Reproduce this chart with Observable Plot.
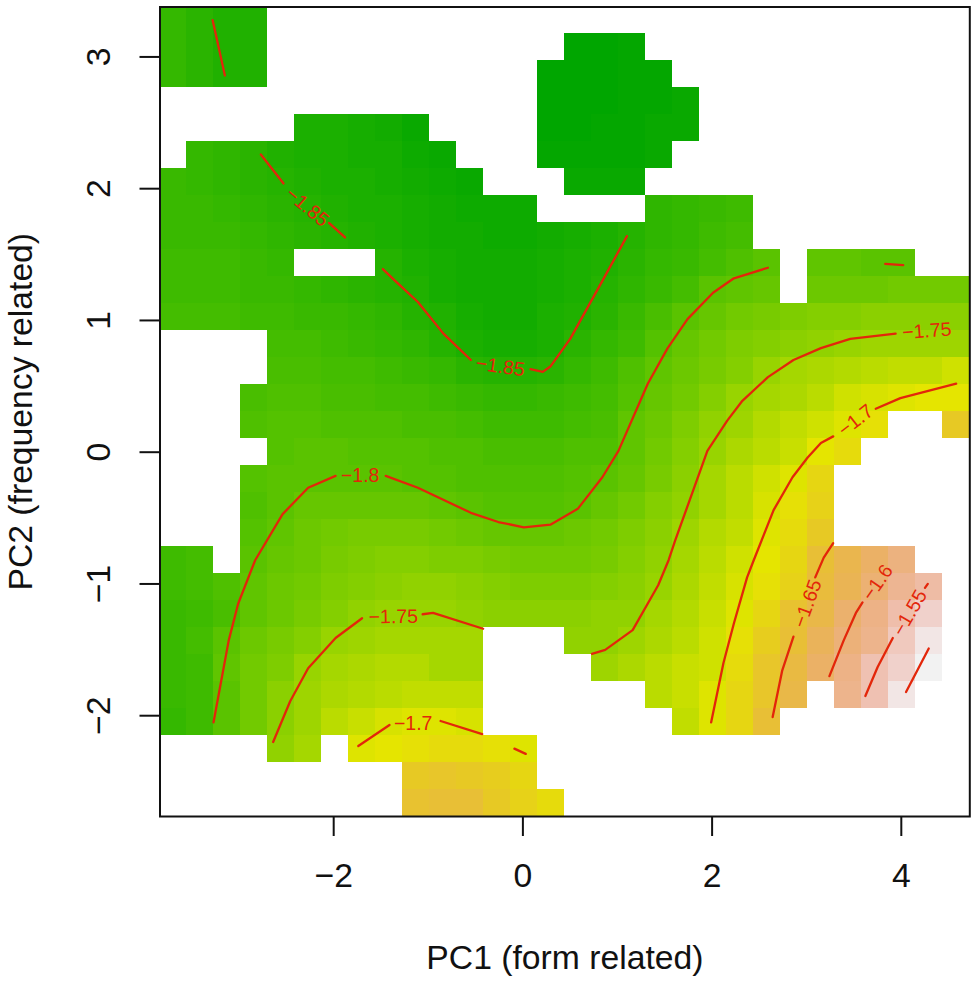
<!DOCTYPE html>
<html>
<head>
<meta charset="utf-8">
<script src="https://cdn.jsdelivr.net/npm/d3@7"></script>
<script src="https://cdn.jsdelivr.net/npm/@observablehq/plot@0.6"></script>
<style>
  body { margin: 0; background: #fff; }
  svg { display: block; }
</style>
</head>
<body>
<div id="chart"></div>
<script>
const _ = null;

const xTicks = [-2, 0, 2, 4];
const yTicks = [-2, -1, 0, 1, 2, 3];
const xLabel = "PC1 (form related)";
const yLabel = "PC2 (frequency related)";

// Extent of the image grid (30 x 30 cells)
const xRange = [-3.836, 4.724];
const yRange = [-2.765, 3.379];

// Cell values, top row first, as -z * 100
const gridRows = [
  [183.5,184.5,185.5,185.5],
  [183.5,184.5,185.5,185.5,_,_,_,_,_,_,_,_,_,_,_,189,189,188.5],
  [183.5,184.5,185.5,185.5,_,_,_,_,_,_,_,_,_,_,189,189,189,188.5,188.5],
  [_,_,_,_,_,_,_,_,_,_,_,_,_,_,189,189,189,188.5,188.5,188],
  [_,_,_,_,_,186,186,186.5,187,188,_,_,_,_,189,189,188.5,188.5,188,188],
  [_,183.5,184,184.5,185.5,186,186,186.5,186.5,187.5,188,_,_,_,188.5,188.5,188.5,188.5,188],
  [183,183.5,184,184.5,185,185.5,186,186,186.5,187,187.5,188,_,_,_,188,188,188],
  [183,183,183.5,184,184.5,185,185.5,186,186,186.5,187,187.5,187.5,187.5,_,_,_,_,184,183.5,183,182.5],
  [183,183,183,183.5,184,184.5,185,185.5,186,186.5,187,187,187.5,187.5,187,186.5,186,185,184,183.5,182.5,182],
  [182.5,182.5,182.5,183,183.5,_,_,_,185,186,186.5,187,187,187,186.5,186,185.5,184.5,183.5,183,182,181,180,_,179.5,179.5,180,180],
  [182.5,182.5,182.5,183,183,183.5,184,184.5,185,185.5,186.5,187,187,187,186.5,186,185,184,183,182,180,179.5,179,_,178.5,178.5,178.5,178,178,178],
  [182,182,182,182.5,182.5,183,183,183.5,184,185,185.5,186.5,187,187,186,185.5,184.5,183,181.5,180,179,178,177.5,177,176.5,176.5,176,176,176,176],
  [_,_,_,_,182,182,182.5,183,183.5,184,185,186,186.5,186.5,186,184.5,183.5,182.5,180.5,179,178,177,176.5,176,175.5,175,174.5,174.5,174.5,174.5],
  [_,_,_,_,181.5,181.5,182,182,182.5,183,183.5,184.5,185,185,184.5,183.5,182.5,181,179.5,178.5,177.5,176.5,175,174,173.5,173,172.5,172,172,171],
  [_,_,_,181.5,181,181,181.5,181.5,182,182,182.5,183,183.5,183.5,183,182.5,182,180.5,179,178,176.5,175,174,173.5,172.5,171,170.5,170,169.5,169.5],
  [_,_,_,181,180.5,180.5,181,181,181,181.5,181.5,182,182.5,182.5,182.5,182,181.5,179.5,178.5,177,175.5,174.5,173,172,171,170,169,_,_,166.5],
  [_,_,_,_,180.5,180,180,180.5,180.5,180.5,181,181,181.5,181.5,181.5,181,181,179.5,178,176.5,175,173.5,172.5,171.5,169.5,168.5],
  [_,_,_,180.5,180,180,180,180,180,180.5,180.5,181,181,181,181,180.5,180,179,177.5,176,174,172.5,171,170,168],
  [_,_,_,181,180,179,179,179,179,179,179.5,180,180.5,180.5,180.5,180,179,178,176.5,175.5,174,172.5,170.5,169,167.5],
  [_,_,_,180.5,179.5,178.5,178,177.5,177.5,177.5,178,178.5,179,179,179,178.5,178,177,176,174.5,173,172,170,168.5,166.5],
  [182.5,182,_,180,179,178.5,177.5,177,176.5,176.5,177,177,177.5,178,178,178,177.5,176.5,175.5,174,172.5,171,169.5,168,165,163,161,159],
  [182.5,182,181,179.5,178.5,178,177,176.5,176,175.5,175.5,176,176.5,177,177,177,176.5,176,175,173.5,172,170.5,169,167.5,164.5,162.5,160,157.5,156],
  [183,182.5,181.5,179.5,178.5,177.5,176.5,175.5,175,175,175,175.5,176,176,176,176,175.5,175.5,174,173,171.5,170,168,165.5,163.5,160.5,158.5,155.5,153],
  [183,182,180,178.5,177.5,176.5,175,174.5,174,174,174,174,_,_,_,175.5,175.5,174.5,173.5,172.5,171,169,167,165,162,159.5,158,154,151],
  [183,182.5,179.5,178,177,175,174,173.5,173,173,174,174,_,_,_,_,174.5,173.5,172.5,171.5,171,168.5,166,164,161,158.5,155,153,150],
  [183,182.5,180,178,176,174.5,173.5,173,172.5,172,172,172,_,_,_,_,_,_,172.5,171.5,170,168,166,163.5,_,158,155,151],
  [183.5,182.5,180,178,176,174.5,172.5,171.5,170.5,170,170,170.5,_,_,_,_,_,_,_,172,170,168,165],
  [_,_,_,_,175.5,174,_,170,169.5,169,168.5,168.5,169,170],
  [_,_,_,_,_,_,_,_,_,166.5,166,166.5,167,168],
  [_,_,_,_,_,_,_,_,_,165.5,165,165,166.5,167.5,168.5]
];

// Contour pieces per level, broken where R put the inline label
const contour185 = [
  [[-3.28,3.28],[-3.15,2.86]],
  [[-2.77,2.26],[-2.53,2.04]],
  [[-2.05,1.74],[-1.88,1.63]],
  [[-1.48,1.39],[-1.35,1.30],[-1.11,1.14],[-0.84,0.90],[-0.55,0.70]],
  [[0.08,0.63],[0.21,0.61],[0.29,0.65],[0.50,0.86],[0.84,1.30],[1.10,1.64]]
];
const contour180 = [
  [[-3.27,-2.05],[-3.11,-1.43],[-3.01,-1.15],[-2.83,-0.82],[-2.54,-0.47],[-2.27,-0.27],[-1.98,-0.18]],
  [[-1.45,-0.18],[-1.11,-0.27],[-0.55,-0.46],[-0.26,-0.53],[0.01,-0.57],[0.29,-0.55],[0.58,-0.43],[0.84,-0.19],[1.01,0.01],[1.32,0.52],[1.53,0.79],[1.74,1.01],[2.01,1.21],[2.23,1.32],[2.59,1.40]],
  [[3.83,1.43],[4.02,1.42]]
];
const contour175 = [
  [[-2.64,-2.20],[-2.46,-1.89],[-2.27,-1.64],[-1.98,-1.41],[-1.70,-1.26]],
  [[-1.06,-1.23],[-0.95,-1.22],[-0.42,-1.34]],
  [[0.73,-1.53],[0.87,-1.50],[1.16,-1.35],[1.43,-1.01],[1.54,-0.82],[1.61,-0.67],[1.95,0.01],[2.16,0.24],[2.32,0.39],[2.59,0.57],[2.86,0.70],[3.15,0.79],[3.46,0.86],[3.94,0.90]]
];
const contour170 = [
  [[-1.74,-2.23],[-1.41,-2.07]],
  [[-0.87,-2.04],[-0.43,-2.14]],
  [[-0.09,-2.25],[0.03,-2.29]],
  [[1.99,-2.05],[2.12,-1.60],[2.23,-1.30],[2.37,-0.95],[2.44,-0.82],[2.65,-0.44],[2.85,-0.19],[3.01,-0.04],[3.15,0.07],[3.28,0.12]],
  [[3.73,0.33],[3.99,0.41],[4.58,0.52]]
];
const contour165 = [
  [[2.64,-2.01],[2.74,-1.66],[2.86,-1.40]],
  [[3.09,-0.95],[3.18,-0.80],[3.28,-0.69]]
];
const contour160 = [
  [[3.24,-1.70],[3.39,-1.43],[3.52,-1.22],[3.59,-1.14]]
];
const contour155 = [
  [[3.62,-1.85],[3.75,-1.63],[3.91,-1.41]],
  [[4.25,-1.03],[4.28,-1.00]]
];
const contour150 = [
  [[4.05,-1.82],[4.29,-1.49]]
];

const labelText = ["−1.85", "−1.85", "−1.8", "−1.75", "−1.7", "−1.75", "−1.7", "−1.65", "−1.6", "−1.55"];
const labelX = [-2.28, -0.24, -1.72, 4.27, 3.52, -1.37, -1.16, 3.01, 3.75, 4.09];
const labelY = [1.86, 0.65, -0.18, 0.92, 0.24, -1.25, -2.06, -1.15, -0.99, -1.22];
const labelAngle = [40, 8, 0, -4, -38, -1, 0, -70, -55, -60];

// R's terrain.colors ramp, continuous
const hsv = (h, s, v) => {
  const f = (n) => {
    const k = (n + h / 60) % 6;
    return v - v * s * Math.max(0, Math.min(k, 4 - k, 1));
  };
  return d3.rgb(f(5) * 255, f(3) * 255, f(1) * 255).formatHex();
};
const terrain = (t) => {
  if (t < 0.5) {
    const u = t / 0.5;
    return hsv(120 - 60 * u, 1, 0.65 + 0.25 * u);
  }
  const u = (t - 0.5) / 0.5;
  return hsv(60 - 60 * u, 1 - u, 0.9 + 0.05 * u);
};

const dx = (xRange[1] - xRange[0]) / 30;
const dy = (yRange[1] - yRange[0]) / 30;

const cells = gridRows.flatMap((row, i) =>
  row.flatMap((v, j) =>
    v == null
      ? []
      : [{
          x1: xRange[0] + j * dx,
          x2: xRange[0] + (j + 1) * dx,
          y1: yRange[1] - i * dy,
          y2: yRange[1] - (i + 1) * dy,
          z: -v / 100,
        }]
  )
);

const contourPieces = [contour185, contour180, contour175, contour170, contour165, contour160, contour155, contour150]
  .flat()
  .flatMap((piece, id) => piece.map(([x, y]) => ({ x, y, id })));

const labels = labelText.map((text, i) => ({
  text,
  x: labelX[i],
  y: labelY[i],
  angle: labelAngle[i],
}));

const minus = (d) => String(d).replace("-", "−");
const contourRed = "#e3260a";

document.getElementById("chart").appendChild(
  Plot.plot({
    width: 975,
    height: 982,
    marginLeft: 159.5,
    marginRight: 5.7,
    marginTop: 6.5,
    marginBottom: 166,
    style: { fontFamily: "'Liberation Sans', Arial, sans-serif", fontSize: "33.7px", color: "#111" },
    x: { domain: xRange },
    y: { domain: yRange },
    color: { type: "linear", domain: [-1.89, -1.5], interpolate: terrain },
    marks: [
      Plot.rect(cells, { x1: "x1", x2: "x2", y1: "y1", y2: "y2", fill: "z", shapeRendering: "crispEdges" }),
      Plot.line(contourPieces, { x: "x", y: "y", z: "id", stroke: contourRed, strokeWidth: 2.3, curve: "linear" }),
      Plot.text(labels, {
        x: "x",
        y: "y",
        text: "text",
        rotate: "angle",
        fill: contourRed,
        fontSize: 19.5,
      }),
      Plot.frame({ stroke: "#111", strokeWidth: 2 }),
      Plot.axisX(xTicks, {
        tickSize: 20,
        tickPadding: 27,
        strokeWidth: 2,
        fontSize: 33.7,
        tickFormat: minus,
        label: xLabel,
        labelAnchor: "center",
        labelArrow: "none",
        labelOffset: 152,
      }),
      Plot.axisY(yTicks, {
        tickSize: 20,
        tickPadding: 30,
        strokeWidth: 2,
        fontSize: 33.7,
        tickRotate: -90,
        tickFormat: minus,
        label: yLabel,
        labelAnchor: "center",
        labelArrow: "none",
        labelOffset: 152,
      }),
    ],
  })
);
</script>
</body>
</html>
